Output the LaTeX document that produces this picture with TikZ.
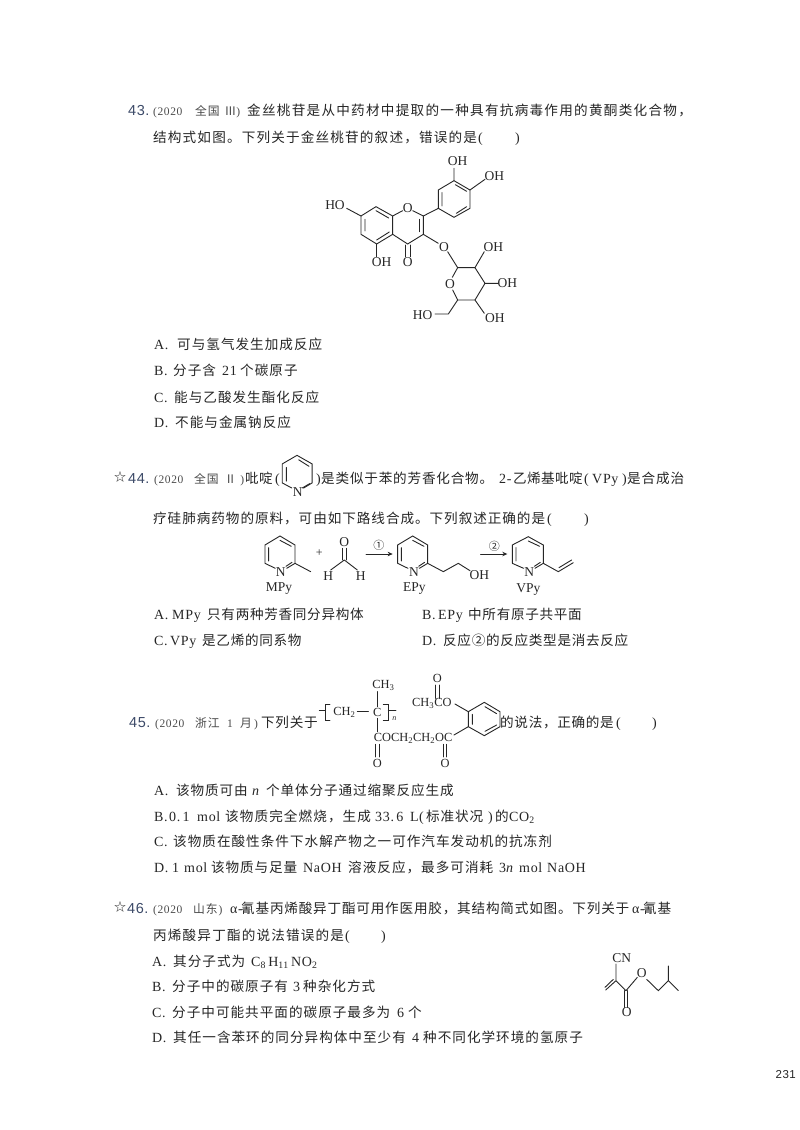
\documentclass[tikz,border=0pt]{standalone}
\usetikzlibrary{arrows.meta}
\usepackage{fontspec}
\setmainfont[LetterSpace=6.6]{Noto Sans CJK SC}
\newfontfamily\enf[LetterSpace=5]{Liberation Serif}
\newfontfamily\enplain{Liberation Serif}
\newfontfamily\enn[LetterSpace=4]{Liberation Sans}
\definecolor{ink}{HTML}{262626}
\definecolor{tagc}{HTML}{4A4A4A}
\definecolor{numc}{HTML}{3C4A68}
\newcommand{\E}[1]{{\enf\fontsize{14}{14}\selectfont #1}}
\newcommand{\Es}[1]{{\enf\fontsize{11.5}{12}\selectfont #1}}
\newcommand{\LS}[1]{\addfontfeature{LetterSpace=#1}}
\newcommand{\cm}{\char"FF0C\relax}
\newcommand{\Tl}[4]{\node[txt] (#1) at (#2,#3+5) {#4};}
\newcommand{\Ts}[4]{\node[tag] (#1) at (#2,#3+5) {#4};}
\newcommand{\Qn}[4]{\node[numb] (#1) at (#2,#3+5) {#4};}
\tikzset{
 txt/.style={anchor=base west,inner sep=0pt,text=ink,font=\fontsize{13.6}{14}\selectfont},
 tag/.style={anchor=base west,inner sep=0pt,text=tagc,font=\fontsize{11.8}{12}\selectfont},
 numb/.style={anchor=base west,inner sep=0pt,text=numc,font=\enn\fontsize{14.5}{15}\selectfont},
 atom/.style={inner sep=0pt,text=ink,font=\enplain\fontsize{13.5}{14}\selectfont},
 chain/.style={atom,anchor=west,font=\enplain\fontsize{12.4}{13}\selectfont},
 bond/.style={draw=ink,line width=0.9pt,line cap=round},
 px3/.style={x=0.3333pt,y=-0.3333pt},
 px29/.style={x=0.3444pt,y=-0.3444pt},
 tipa/.style={-{Stealth[length=5pt,width=4.5pt]}},
}
\begin{document}
\begin{tikzpicture}[x=1pt,y=-1pt]
\path[use as bounding box,fill=white] (0,0) rectangle (800,1130);
% ---------- 43
\Qn{qa}{128}{110}{43.}
\Ts{qb}{153}{110}{\Es{(2020}}
\Ts{qc}{195}{110}{全国\hspace{5pt}Ⅲ\Es{)}}
\Tl{qd}{247}{110}{\LS{9.3}金丝桃苷是从中药材中提取的一种具有抗病毒作用的黄酮类化合物\cm}
\Tl{qe}{153}{137}{\LS{8.6}结构式如图。下列关于金丝桃苷的叙述\cm 错误的是}
\Tl{qe1}{478}{137}{\E{(}}
\Tl{qe2}{515}{137}{\E{)}}
\begin{scope}[shift={(300,140)},px3]
 \draw[bond] (228,200)--(278,228)--(278,283)--(230,312)--(183,283)--(183,228)--cycle;
 \draw[bond] (195,238)--(195,273) (228,212)--(266,234) (230,300)--(268,276);
 \draw[bond] (278,228)--(308,212) (338,212)--(370,228)--(370,283)--(323,312)--(278,283);
 \draw[bond] (359,238)--(359,275);
 \draw[bond] (316,315)--(316,350) (330,315)--(330,350);
 \draw[bond] (230,312)--(230,350);
 \draw[bond] (183,228)--(140,205);
 \draw[bond] (370,228)--(415,205);
 \draw[bond] (415,205)--(415,150)--(462,122)--(510,150)--(510,205)--(462,232)--cycle;
 \draw[bond] (426,198)--(426,158) (469,220)--(500,200) (466,134)--(500,154);
 \draw[bond] (462,122)--(462,85) (510,150)--(555,118);
 \draw[bond] (370,283)--(415,310) (443,335)--(473,383);
 \draw[bond] (473,383)--(525,383)--(555,430)--(525,480)--(473,480)--(458,450) (457,412)--(473,383);
 \draw[bond] (525,383)--(553,335) (555,430)--(595,430) (525,480)--(553,520) (473,480)--(445,522)--(405,522);
 \node[atom] (a1) at (105,195) {HO};
 \node[atom] (a2) at (323,205) {O};
 \node[atom] (a3) at (245,367) {OH};
 \node[atom] (a4) at (323,367) {O};
 \node[atom] (a5) at (473,63) {OH};
 \node[atom] (a6) at (583,108) {OH};
 \node[atom] (a7) at (432,320) {O};
 \node[atom] (a8) at (450,432) {O};
 \node[atom] (a9) at (580,322) {OH};
 \node[atom] (a10) at (622,430) {OH};
 \node[atom] (a11) at (585,535) {OH};
 \node[atom] (a12) at (368,524) {HO};
\end{scope}
\Tl{qf}{154}{344}{\E{A.}}\Tl{qf1}{177}{344}{\LS{7.4}可与氢气发生加成反应}
\Tl{qg}{154}{370}{\E{B.}}\Tl{qg1}{173}{370}{\LS{7.4}分子含}\Tl{qg2}{222}{370}{\E{21}}\Tl{qg3}{240}{370}{\LS{7.4}个碳原子}
\Tl{qh}{154}{397}{\E{C.}}\Tl{qh1}{174}{397}{\LS{7.4}能与乙酸发生酯化反应}
\Tl{qi}{154}{422}{\E{D.}}\Tl{qi1}{175}{422}{\LS{7.4}不能与金属钠反应}
% ---------- 44
\Tl{ra}{114}{476}{\fontsize{12}{12}\selectfont ☆}
\Qn{rb}{128}{478}{44.}
\Ts{rc}{154}{478}{\Es{(2020}}
\Ts{rd}{194}{478}{全国\hspace{6pt}Ⅱ\hspace{4pt}\Es{)}}
\Tl{re}{245}{478}{\LS{2}吡啶}
\Tl{re1}{275}{478}{\E{(}}
\Tl{re2}{316}{478}{\E{)}}
\Tl{rf}{321}{478}{\LS{5.9}是类似于苯的芳香化合物。}
\Tl{rf1}{499}{478}{\E{2-}}
\Tl{rf2}{513}{478}{\LS{3}乙烯基吡啶}
\Tl{rf3}{584}{478}{\E{(}}
\Tl{rf4}{592}{478}{\E{VPy}}
\Tl{rf5}{622}{478}{\E{)}}
\Tl{rf6}{627}{478}{\LS{6.6}是合成治}
\Tl{rg}{153}{518}{\LS{7}疗硅肺病药物的原料\cm 可由如下路线合成。下列叙述正确的是}
\Tl{rg1}{547}{518}{\E{(}}
\Tl{rg2}{584}{518}{\E{)}}
\begin{scope}[shift={(110,445)},px29]
 \draw[bond] (500,110)--(500,55)--(543,30)--(587,55)--(587,110)--(562,125) (528,125)--(500,110);
 \draw[bond] (512,65)--(512,105) (548,43)--(578,62) (580,112)--(558,125);
 \node[atom] (b1) at (545,136) {N};
\end{scope}
\begin{scope}[shift={(240,530)},px3]
 % MPy
 \draw[bond] (75,100)--(75,45)--(120,18)--(165,45)--(165,100)--(140,115) (106,115)--(75,100);
 \draw[bond] (86,53)--(86,93) (120,31)--(154,49) (156,97)--(138,109);
 \draw[bond] (165,100)--(212,125);
 \node[atom] (b2) at (122,125) {N};
 \node[atom] (b12) at (117,175) {MPy};
 \node[atom,font=\enplain\fontsize{12}{12}\selectfont] (b3) at (238,68) {+};
 \node[atom] (b4) at (313,35) {O};
 \draw[bond] (308,55)--(308,90) (318,55)--(318,90);
 \draw[bond] (313,90)--(272,120) (313,90)--(352,120);
 \node[atom] (b5) at (265,138) {H};
 \node[atom] (b6) at (362,138) {H};
 \draw[bond,tipa] (378,72)--(458,72);
 \node[atom,font=\fontsize{11}{11}\selectfont] (b7) at (417,47) {①};
 % EPy
 \draw[bond] (473,100)--(473,45)--(518,18)--(563,45)--(563,100)--(538,115) (504,115)--(473,100);
 \draw[bond] (484,53)--(484,93) (518,31)--(552,49) (554,97)--(536,109);
 \draw[bond] (563,100)--(610,125)--(655,100)--(690,122);
 \node[atom] (b8) at (522,125) {N};
 \node[atom] (b9) at (718,135) {OH};
 \node[atom] (b13) at (523,175) {EPy};
 \draw[bond,tipa] (722,72)--(802,72);
 \node[atom,font=\fontsize{11}{11}\selectfont] (b10) at (763,50) {②};
 % VPy
 \draw[bond] (817,100)--(817,45)--(865,20)--(910,45)--(910,100)--(885,115) (851,115)--(817,100);
 \draw[bond] (828,53)--(828,93) (865,33)--(899,49) (901,97)--(883,109);
 \draw[bond] (910,100)--(955,125)--(1000,98) (957,113)--(995,90);
 \node[atom] (b11) at (868,125) {N};
 \node[atom] (b14) at (865,180) {VPy};
\end{scope}
\Tl{rh}{154}{614}{\E{A.}}\Tl{rh1}{172}{614}{\E{MPy}}\Tl{rh2}{207}{614}{\LS{5.1}只有两种芳香同分异构体}
\Tl{ri}{422}{614}{\E{B.}}\Tl{ri1}{438}{614}{\E{EPy}}\Tl{ri2}{468}{614}{\LS{5.1}中所有原子共平面}
\Tl{rj}{154}{640}{\E{C.}}\Tl{rj1}{170}{640}{\E{VPy}}\Tl{rj2}{202}{640}{\LS{5.1}是乙烯的同系物}
\Tl{rk}{422}{640}{\E{D.}}\Tl{rk1}{443}{640}{\LS{5.1}反应②的反应类型是消去反应}
% ---------- 45
\Qn{sa}{129}{722}{45.}
\Ts{sb}{155}{722}{\Es{(2020}}
\Ts{sb1}{195}{722}{浙江}
\Ts{sb2}{227}{722}{\Es{1}}
\Ts{sb3}{240}{722}{月}
\Ts{sb4}{254}{722}{\Es{)}}
\Tl{sc}{261}{722}{\LS{5.1}下列关于}
\Tl{sd}{500}{722}{\LS{5.1}的说法\cm 正确的是}
\Tl{sd1}{616}{722}{\E{(}}
\Tl{sd2}{652}{722}{\E{)}}
\begin{scope}[shift={(300,665)},px3]
 \draw[bond] (58,137)--(75,137) (90,118)--(75,118)--(75,165)--(90,165);
 \node[chain,anchor=center] (c1) at (133,143) {CH\textsubscript{2}};
 \draw[bond] (172,140)--(205,140);
 \node[chain,anchor=center] (c2) at (232,143) {C};
 \draw[bond] (250,118)--(265,118)--(265,165)--(250,165) (265,137)--(288,137);
 \node[atom,font=\enplain\itshape\fontsize{8}{8}\selectfont] (c3) at (283,160) {n};
 \node[chain,anchor=center] (c4) at (250,62) {CH\textsubscript{3}};
 \draw[bond] (232,80)--(232,125) (232,160)--(232,200);
 \node[chain] (c5) at (221,219) {COCH\textsubscript{2}CH\textsubscript{2}OC};
 \draw[bond] (227,238)--(227,276) (237,238)--(237,276);
 \node[chain,anchor=center] (c6) at (232,295) {O};
 \draw[bond] (430,238)--(430,276) (440,238)--(440,276);
 \node[chain,anchor=center] (c7) at (435,295) {O};
 \draw[bond] (505,140)--(553,112)--(600,140)--(600,185)--(553,212)--(505,185)--cycle;
 \draw[bond] (517,178)--(517,148) (555,125)--(590,146) (555,199)--(590,180);
 \draw[bond] (505,185)--(462,210) (505,140)--(465,117);
 \node[chain] (c8) at (336,116) {CH\textsubscript{3}CO};
 \node[chain,anchor=center] (c9) at (412,40) {O};
 \draw[bond] (407,60)--(407,100) (417,60)--(417,100);
\end{scope}
\Tl{se}{154}{790}{\E{A.}}\Tl{se1}{176}{790}{\LS{6.6}该物质可由}\Tl{se2}{252}{790}{\E{\itshape n}}\Tl{se3}{266}{790}{\LS{6.6}个单体分子通过缩聚反应生成}
\Tl{sf}{154}{816}{\E{B.}}\Tl{sf1}{169}{816}{\E{0.\,1}}\Tl{sf2}{197}{816}{\E{mol}}\Tl{sf3}{225}{816}{\LS{8}该物质完全燃烧\cm 生成}\Tl{sf4}{375}{816}{\E{33.\,6}}\Tl{sf5}{410}{816}{\E{L}}\Tl{sf6}{419}{816}{\E{(}}\Tl{sf7}{426}{816}{\LS{6.6}标准状况}\Tl{sf8}{488}{816}{\E{)}}\Tl{sf9}{495}{816}{的}\Tl{sf10}{509}{816}{\E{CO\textsubscript{2}}}
\Tl{sg}{154}{841}{\E{C.}}\Tl{sg1}{173}{841}{\LS{7.4}该物质在酸性条件下水解产物之一可作汽车发动机的抗冻剂}
\Tl{sh}{154}{867}{\E{D.}}\Tl{sh1}{172}{867}{\E{1}}\Tl{sh2}{184}{867}{\E{mol}}\Tl{sh3}{211}{867}{\LS{6.6}该物质与足量}\Tl{sh4}{303}{867}{\E{NaOH}}\Tl{sh5}{348}{867}{\LS{7.4}溶液反应\cm 最多可消耗}\Tl{sh6}{499}{867}{\E{3\textit{n}}}\Tl{sh7}{519}{867}{\E{mol}}\Tl{sh8}{547}{867}{\E{NaOH}}
% ---------- 46
\Tl{ta}{114}{906}{\fontsize{12}{12}\selectfont ☆}
\Qn{tb}{127}{908}{46.}
\Ts{tc}{153}{908}{\Es{(2020}}
\Ts{tc1}{193}{908}{山东\hspace{1pt}\Es{)}}
\Tl{td}{230}{908}{\E{α-}}
\Tl{td1}{241}{908}{\LS{5.9}氰基丙烯酸异丁酯可用作医用胶\cm 其结构简式如图。下列关于}
\Tl{td2}{632}{908}{\E{α-}}
\Tl{td3}{643}{908}{氰基}
\Tl{te}{153}{935}{\LS{8.6}丙烯酸异丁酯的说法错误的是}
\Tl{te1}{345}{935}{\E{(}}
\Tl{te2}{381}{935}{\E{)}}
\Tl{tf}{152}{961}{\E{A.}}\Tl{tf1}{173}{961}{\LS{7.4}其分子式为}\Tl{tf2}{251}{961}{\E{C\textsubscript{8}\,H\textsubscript{11}\,NO\textsubscript{2}}}
\Tl{tg}{152}{986}{\E{B.}}\Tl{tg1}{172}{986}{\LS{7.4}分子中的碳原子有}\Tl{tg2}{293}{986}{\E{3}}\Tl{tg3}{303}{986}{\LS{7.4}种杂化方式}
\Tl{th}{152}{1012}{\E{C.}}\Tl{th1}{172}{1012}{\LS{7.4}分子中可能共平面的碳原子最多为}\Tl{th2}{397}{1012}{\E{6}}\Tl{th3}{408}{1012}{个}
\Tl{ti}{152}{1037}{\E{D.}}\Tl{ti1}{173}{1037}{\LS{7.4}其任一含苯环的同分异构体中至少有}\Tl{ti2}{412}{1037}{\E{4}}\Tl{ti3}{423}{1037}{\LS{7.4}种不同化学环境的氢原子}
\begin{scope}[shift={(590,940)},px3]
 \node[atom] (d1) at (95,55) {CN};
 \draw[bond] (78,72)--(78,122)--(108,152) (78,122)--(47,150) (70,118)--(45,142);
 \draw[bond] (104,152)--(104,202) (113,152)--(113,202);
 \node[atom] (d2) at (110,217) {O};
 \draw[bond] (108,152)--(142,112);
 \node[atom] (d3) at (155,98) {O};
 \draw[bond] (170,118)--(205,152)--(235,122)--(235,78) (235,122)--(265,152);
\end{scope}
\node[anchor=east,inner sep=0pt,text=ink,font=\enn\fontsize{11.5}{12}\selectfont] (p) at (796,1075) {231};
\end{tikzpicture}
\end{document}
